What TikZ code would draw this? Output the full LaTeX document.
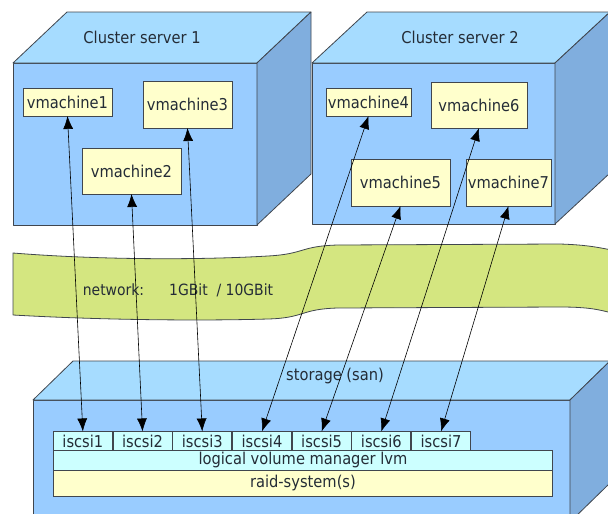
\documentclass[tikz,border=0pt]{standalone}
\usepackage{fontspec}
\setmainfont{DejaVu Sans Condensed}
\usetikzlibrary{matrix,arrows.meta}

\definecolor{frontblue}{RGB}{153,204,255}
\definecolor{topblue}{RGB}{166,220,255}
\definecolor{sideblue}{RGB}{128,174,222}
\definecolor{vmyellow}{RGB}{255,255,204}
\definecolor{lightcyan}{RGB}{204,255,255}
\definecolor{netgreen}{RGB}{212,230,128}
\definecolor{inktext}{RGB}{36,44,54}
\definecolor{edgegray}{RGB}{64,70,78}

\begin{document}
\begin{tikzpicture}[x=1pt, y=-1pt,
every node/.style={%
    inner sep =0pt, outer sep=0pt, text=inktext,
    font=\fontsize{16.3}{19}\selectfont
    },
face/.style={draw=edgegray, line width=0.8pt, line join=round},
vm/.style={draw=edgegray, line width=0.9pt, fill=vmyellow},
layer/.style={draw=edgegray, line width=0.9pt, minimum height=20},
link/.style={line width=0.6pt, {Latex[length=13pt,width=10pt]}-{Latex[length=13pt,width=10pt]}}
]
\useasboundingbox (0,0) rectangle (608,514);

% three boxes: two servers and the storage
\foreach \xa/\ya/\xb/\yb/\dx/\dy in {13/63/257/225/54/51, 312/63/555/224/55/51, 33/400/570/522/40/39}{
    \draw [face, fill=frontblue] (\xa,\ya) rectangle (\xb,\yb);
    \draw [face, fill=topblue] (\xa,\ya) -- ++(\dx,-\dy) -- (\xb+\dx,\ya-\dy) -- (\xb,\ya) -- cycle;
    \draw [face, fill=sideblue] (\xb,\ya) -- ++(\dx,-\dy) -- (\xb+\dx,\yb-\dy) -- (\xb,\yb) -- cycle;
}

% network band
\draw [face, fill=netgreen] (13,253) .. controls (100,260) and (200,260) .. (268,256)
    .. controls (305,254) and (300,246) .. (338,245) -- (560,244)
    .. controls (590,245) and (600,248) .. (612,250) -- (612,313)
    .. controls (600,310) and (590,307) .. (560,307) -- (338,308)
    .. controls (300,309) and (305,318) .. (268,319)
    .. controls (200,321) and (100,320) .. (13,315) -- cycle;

\node (cs1) at (142,37) {Cluster server 1};
\node (cs2) at (460,37) {Cluster server 2};
\node (net) [font=\fontsize{15.5}{18}\selectfont] at (178,290) {network:\hspace{25pt}1GBit~~/ 10GBit};
\node (san) at (335,376) {storage (san)};

\node[vm, minimum width=89, minimum height=28] (vm1) at (67.5,102) {vmachine1};
\node[vm, minimum width=99, minimum height=46] (vm2) at (131.5,171) {vmachine2};
\node[vm, minimum width=89, minimum height=47] (vm3) at (187.5,104.5) {vmachine3};
\node[vm, minimum width=85, minimum height=28] (vm4) at (368.5,102) {vmachine4};
\node[vm, minimum width=99, minimum height=47] (vm5) at (400.5,182.5) {vmachine5};
\node[vm, minimum width=96, minimum height=46] (vm6) at (479,105) {vmachine6};
\node[vm, minimum width=85, minimum height=47] (vm7) at (508.5,182.5) {vmachine7};

\matrix (s) [matrix of nodes, column sep=0pt, anchor=north west,
    nodes={layer, fill=lightcyan, minimum width=58.8, minimum height=19}] at (53,431) {
iscsi1 & iscsi2 & iscsi3 & iscsi4 & iscsi5 & iscsi6 & iscsi7 \\
};
\node[layer, fill=lightcyan, minimum width=499, minimum height=20, anchor=north west] (lvm) at (s-1-1.south west) {logical volume manager lvm};
\node[layer, fill=vmyellow, minimum width=499, minimum height=26, anchor=north west] (raid) at (lvm.south west) {raid-system(s)};

\foreach \i in {1,...,7}
    \draw [link] (vm\i.south) -- (s-1-\i.north);

\end{tikzpicture}
\end{document}
